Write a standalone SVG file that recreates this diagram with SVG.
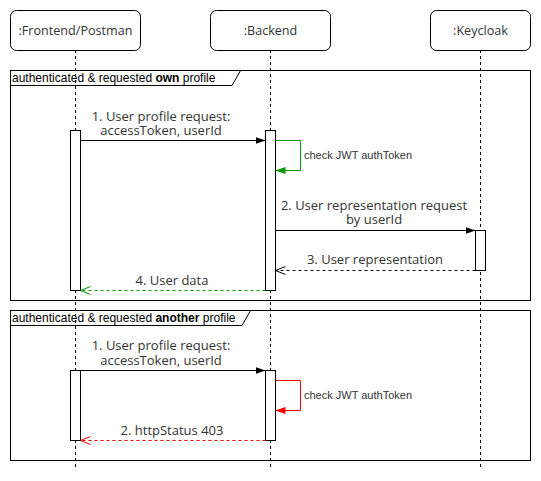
<svg xmlns="http://www.w3.org/2000/svg" width="541" height="481" viewBox="0 0 541 481">
<style>
.box{fill:#fff;stroke:#000;stroke-width:1}
.life{stroke:#000;stroke-width:1;stroke-dasharray:3 3;fill:none}
.act{fill:#fff;stroke:#000;stroke-width:1}
.frame{fill:none;stroke:#000;stroke-width:1}
.p{font-family:"Open Sans","DejaVu Sans",sans-serif;font-size:12.6px;fill:#333;text-anchor:middle}
.t{font-family:"Open Sans","DejaVu Sans",sans-serif;font-size:13px;fill:#333;text-anchor:middle}
.fl{font-family:"Liberation Sans",Arial,sans-serif;font-size:12px;fill:#000}
.sm{font-family:"Liberation Sans",Arial,sans-serif;font-size:11px;fill:#333}
.msg{stroke:#000;fill:none;stroke-width:1}
.ret{stroke:#000;fill:none;stroke-width:1;stroke-dasharray:3 3}
</style>
<defs>
<marker id="ab" viewBox="0 0 10 10" refX="10" refY="5" markerWidth="10" markerHeight="10" markerUnits="userSpaceOnUse" orient="auto"><path d="M0,1.5 L10,5 L0,8.5 Z" fill="#000"/></marker>
<marker id="ag" viewBox="0 0 10 10" refX="10" refY="5" markerWidth="10" markerHeight="10" markerUnits="userSpaceOnUse" orient="auto"><path d="M0,1.5 L10,5 L0,8.5 Z" fill="#009900"/></marker>
<marker id="ar" viewBox="0 0 10 10" refX="10" refY="5" markerWidth="10" markerHeight="10" markerUnits="userSpaceOnUse" orient="auto"><path d="M0,1.5 L10,5 L0,8.5 Z" fill="#ff0000"/></marker>
<marker id="ob" viewBox="0 0 10 10" refX="10" refY="5" markerWidth="10" markerHeight="10" markerUnits="userSpaceOnUse" orient="auto"><path d="M0,1 L10,5 L0,9" fill="none" stroke="#000"/></marker>
<marker id="og" viewBox="0 0 10 10" refX="10" refY="5" markerWidth="10" markerHeight="10" markerUnits="userSpaceOnUse" orient="auto"><path d="M0,1 L10,5 L0,9" fill="none" stroke="#009900"/></marker>
<marker id="or" viewBox="0 0 10 10" refX="10" refY="5" markerWidth="10" markerHeight="10" markerUnits="userSpaceOnUse" orient="auto"><path d="M0,1 L10,5 L0,9" fill="none" stroke="#ff0000"/></marker>
</defs>
<rect width="541" height="481" fill="#fff"/>

<g id="lifelines">
<line class="life" x1="75.5" y1="50" x2="75.5" y2="468"/>
<line class="life" x1="270.5" y1="50" x2="270.5" y2="468"/>
<line class="life" x1="480.5" y1="50" x2="480.5" y2="468"/>
</g>

<g id="frontend"><rect class="box" x="10.5" y="10.5" width="130" height="40" rx="6"/><text class="p" x="75.5" y="35">:Frontend/Postman</text></g>
<g id="backend"><rect class="box" x="210.5" y="10.5" width="120" height="40" rx="6"/><text class="p" x="270.5" y="35">:Backend</text></g>
<g id="keycloak"><rect class="box" x="430.5" y="10.5" width="100" height="40" rx="6"/><text class="p" x="480.5" y="35">:Keycloak</text></g>

<g id="frame1">
<rect class="frame" x="10.5" y="70.5" width="520" height="230"/>
<path class="frame" d="M10.5,85.5 H232 L240.5,70.5"/>
<text class="fl" x="12" y="82">authenticated &amp; requested <tspan font-weight="bold">own</tspan> profile</text>
</g>
<g id="frame2">
<rect class="frame" x="10.5" y="310.5" width="520" height="150"/>
<path class="frame" d="M10.5,325.5 H242 L250.5,310.5"/>
<text class="fl" x="12" y="322">authenticated &amp; requested <tspan font-weight="bold">another</tspan> profile</text>
</g>

<g id="activations">
<rect class="act" x="70.5" y="130.5" width="10" height="160"/>
<rect class="act" x="265.5" y="130.5" width="10" height="160"/>
<rect class="act" x="475.5" y="230.5" width="10" height="40"/>
<rect class="act" x="70.5" y="370.5" width="10" height="70"/>
<rect class="act" x="265.5" y="370.5" width="10" height="70"/>
</g>

<g id="connectors">
<line class="msg" x1="80.5" y1="140.5" x2="265.5" y2="140.5" marker-end="url(#ab)"/>
<path d="M275.5,140.5 H300.5 V170.5 H275.5" fill="none" stroke="#009900" marker-end="url(#ag)"/>
<line class="msg" x1="275.5" y1="230.5" x2="475.5" y2="230.5" marker-end="url(#ab)"/>
<line class="ret" x1="475.5" y1="270.5" x2="275.5" y2="270.5" marker-end="url(#ob)"/>
<line x1="265.5" y1="290.5" x2="80.5" y2="290.5" stroke="#009900" stroke-dasharray="3 3" marker-end="url(#og)"/>
<line class="msg" x1="80.5" y1="370.5" x2="265.5" y2="370.5" marker-end="url(#ab)"/>
<path d="M275.5,380.5 H300.5 V410.5 H275.5" fill="none" stroke="#ff0000" marker-end="url(#ar)"/>
<line x1="265.5" y1="440.5" x2="80.5" y2="440.5" stroke="#ff0000" stroke-dasharray="3 3" marker-end="url(#or)"/>
</g>

<g id="labels">
<text class="t" x="161" y="121">1. User profile request:<tspan x="161" dy="14">accessToken, userId</tspan></text>
<text class="sm" x="304" y="159">check JWT authToken</text>
<text class="t" x="374" y="210">2. User representation request<tspan x="374" dy="14">by userId</tspan></text>
<text class="t" x="375" y="264">3. User representation</text>
<text class="t" x="172" y="285">4. User data</text>
<text class="t" x="161" y="350">1. User profile request:<tspan x="161" dy="15">accessToken, userId</tspan></text>
<text class="sm" x="304" y="399">check JWT authToken</text>
<text class="t" x="172" y="435">2. httpStatus 403</text>
</g>
</svg>
